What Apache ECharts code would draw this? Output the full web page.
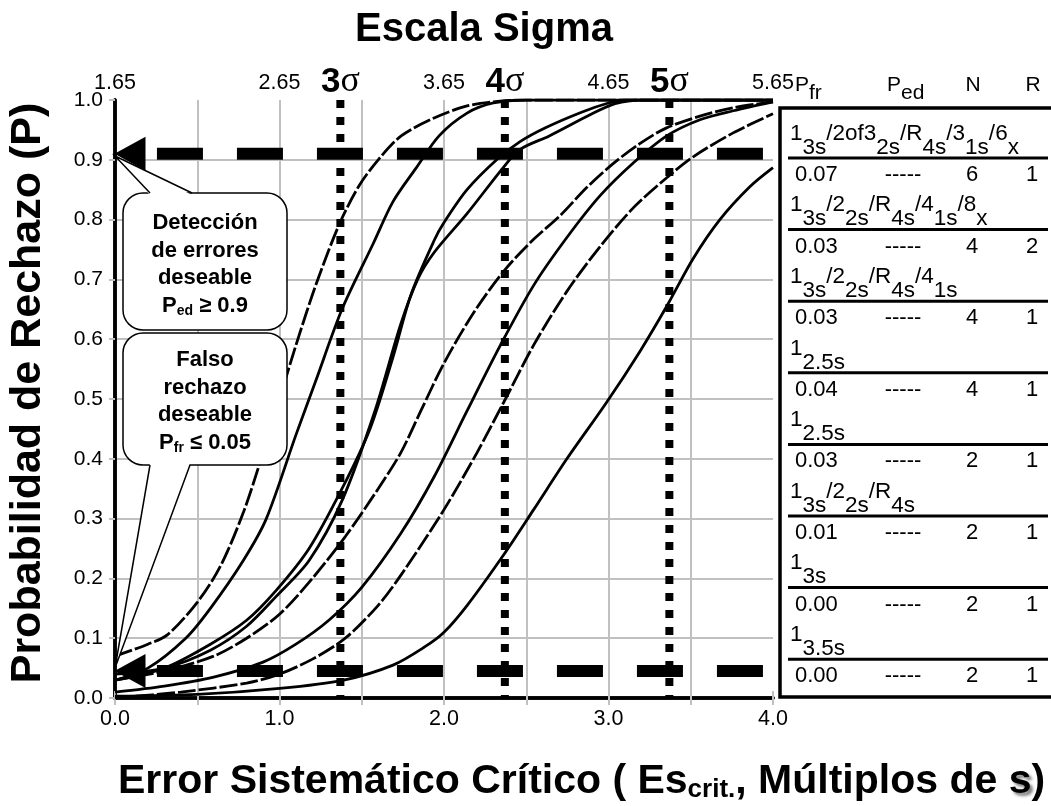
<!DOCTYPE html>
<html>
<head>
<meta charset="utf-8">
<script src="https://cdn.jsdelivr.net/npm/echarts@6.0.0/dist/echarts.min.js"></script>
<style>html,body{margin:0;padding:0;background:#fff}#main{width:1051px;height:806px}</style>
</head>
<body>
<div id="main"></div>
<script>
var FONT = 'Liberation Sans, Arial, sans-serif';

// curvas de potencia: [error sistematico, probabilidad de rechazo]
var curveA = [[0,0.07],[0.2,0.09],[0.32,0.106],[0.5,0.16],[0.64,0.22],[0.78,0.31],[0.9,0.41],[1.0,0.5],[1.1,0.59],[1.22,0.69],[1.36,0.79],[1.48,0.855],[1.6,0.9],[1.74,0.94],[1.94,0.97],[2.14,0.99],[2.34,0.998],[2.5,1.0],[4,1.0]];
var curveB = [[0,0.03],[0.2,0.05],[0.43,0.1],[0.58,0.15],[0.78,0.23],[0.92,0.3],[1.1,0.44],[1.22,0.53],[1.38,0.65],[1.57,0.76],[1.69,0.83],[1.83,0.886],[1.97,0.94],[2.14,0.978],[2.3,0.995],[2.5,1.0],[4,1.0]];
var curveC = [[0,0.03],[0.3,0.05],[0.58,0.09],[0.8,0.13],[0.98,0.18],[1.18,0.25],[1.38,0.35],[1.55,0.45],[1.69,0.57],[1.8,0.675],[1.94,0.765],[2.0,0.795],[2.14,0.85],[2.32,0.9],[2.46,0.93],[2.62,0.954],[2.84,0.98],[3.0,0.995],[3.1,1.0],[4,1.0]];
var curveD = [[0,0.04],[0.3,0.05],[0.58,0.08],[0.8,0.12],[0.98,0.17],[1.18,0.23],[1.38,0.33],[1.58,0.48],[1.737,0.625],[1.84,0.7],[1.94,0.745],[2.14,0.81],[2.36,0.887],[2.46,0.917],[2.64,0.94],[2.9,0.977],[3.04,0.994],[3.2,1.0],[4,1.0]];
var curveE = [[0,0.03],[0.3,0.045],[0.6,0.07],[0.8,0.1],[1.0,0.14],[1.2,0.2],[1.4,0.27],[1.6,0.35],[1.737,0.41],[1.859,0.48],[2.0,0.56],[2.182,0.645],[2.364,0.714],[2.545,0.767],[2.707,0.807],[2.869,0.854],[3.03,0.894],[3.19,0.927],[3.35,0.953],[3.556,0.973],[3.758,0.987],[4.0,0.997]];
var curveF = [[0,0.01],[0.3,0.02],[0.6,0.035],[0.9,0.06],[1.1,0.09],[1.3,0.13],[1.5,0.185],[1.737,0.275],[1.94,0.37],[2.14,0.48],[2.343,0.59],[2.545,0.69],[2.747,0.77],[2.949,0.84],[3.152,0.895],[3.354,0.94],[3.556,0.967],[3.758,0.982],[4.0,0.997]];
var curveG = [[0,0.0],[0.4,0.01],[0.8,0.025],[1.0,0.04],[1.2,0.065],[1.4,0.1],[1.6,0.155],[1.737,0.205],[2.0,0.315],[2.2,0.41],[2.364,0.495],[2.545,0.59],[2.747,0.68],[2.949,0.755],[3.152,0.82],[3.354,0.87],[3.515,0.905],[3.758,0.945],[4.0,0.977]];
var curveH = [[0,0.003],[0.5,0.006],[1.0,0.016],[1.39,0.03],[1.69,0.055],[1.88,0.085],[2.0,0.11],[2.141,0.155],[2.364,0.24],[2.545,0.315],[2.747,0.4],[2.99,0.495],[3.192,0.58],[3.354,0.655],[3.515,0.735],[3.677,0.8],[3.859,0.855],[4.0,0.887]];

// escala sigma
var sigmaX = [1.37, 2.37, 3.37];
var sigmaNames = ['3', '4', '5'];
var sigmaOffset = 1.65;
// lineas de referencia (P deseadas)
var pedLevel = 0.91;
var pfrLevel = 0.045;

// tabla de reglas
var rules = [
  '{n|1}{s|3s}{n|/2of3}{s|2s}{n|/R}{s|4s}{n|/3}{s|1s}{n|/6}{s|x}',
  '{n|1}{s|3s}{n|/2}{s|2s}{n|/R}{s|4s}{n|/4}{s|1s}{n|/8}{s|x}',
  '{n|1}{s|3s}{n|/2}{s|2s}{n|/R}{s|4s}{n|/4}{s|1s}',
  '{n|1}{s|2.5s}',
  '{n|1}{s|2.5s}',
  '{n|1}{s|3s}{n|/2}{s|2s}{n|/R}{s|4s}',
  '{n|1}{s|3s}',
  '{n|1}{s|3.5s}'
];
var pfr = ['0.07', '0.03', '0.03', '0.04', '0.03', '0.01', '0.00', '0.00'];
var ped = ['-----', '-----', '-----', '-----', '-----', '-----', '-----', '-----'];
var nVals = ['6', '4', '4', '4', '2', '2', '2', '2'];
var rVals = ['1', '2', '1', '1', '1', '1', '1', '1'];

var curves = [curveA, curveB, curveC, curveD, curveE, curveF, curveG, curveH];
var dashed = [true, false, false, false, true, false, true, false];

var chart = echarts.init(document.getElementById('main'));

var series = curves.map(function (c, i) {
  return {
    type: 'line', data: c, smooth: 0.3, showSymbol: false, z: 3,
    lineStyle: { color: '#000', width: 2.8, type: dashed[i] ? [18, 3] : 'solid' }
  };
});
sigmaX.forEach(function (s) {
  series.push({
    type: 'line', data: [[s, 1], [s, 0]], showSymbol: false, z: 4,
    lineStyle: { color: '#000', width: 8, type: [8, 9], cap: 'butt' }
  });
});
[pedLevel, pfrLevel].forEach(function (p) {
  series.push({
    type: 'line', data: [[0.255, p], [4, p]], showSymbol: false, z: 4,
    lineStyle: { color: '#000', width: 12, type: [46, 34], cap: 'butt' }
  });
});
series.push({
  type: 'scatter', data: [[0, pedLevel], [0, pfrLevel]], clip: false, z: 5,
  symbol: 'path://M0,10 L20,0 L20,20 Z', symbolSize: [31, 34], symbolOffset: [15, 0],
  itemStyle: { color: '#000', opacity: 1 }
});
series.push({
  type: 'scatter', data: sigmaX.map(function (s) { return [s, 1]; }), clip: false, z: 6,
  symbolSize: 0.01, itemStyle: { color: '#000', opacity: 1 },
  label: {
    show: true, position: 'top', distance: 0, color: '#000', opacity: 1,
    formatter: function (p) { return '{d|' + sigmaNames[p.dataIndex] + '}{g|σ}'; },
    rich: {
      d: { fontSize: 35, fontWeight: 'bold', fontFamily: FONT, color: '#000' },
      g: { fontSize: 36, fontFamily: 'Liberation Serif, serif', color: '#000' }
    }
  }
});

var gray = '#c0c0c0';
var graphic = [
  { type: 'text', x: 484, y: 30, style: { text: 'Escala Sigma', font: 'bold 40px ' + FONT, fill: '#000', align: 'center', verticalAlign: 'middle' } },
  { type: 'text', x: 28, y: 393, rotation: Math.PI / 2, style: { text: 'Probabilidad de Rechazo (P)', font: 'bold 43px ' + FONT, fill: '#000', align: 'center', verticalAlign: 'middle' } },
  { type: 'text', x: 118, y: 782, style: {
      text: '{t|Error Sistemático Crítico ( Es}{b|crit.}{t|, Múltiplos de }{h|s}{t|)}',
      align: 'left', verticalAlign: 'middle',
      rich: {
        t: { fontSize: 41, fontWeight: 'bold', fontFamily: FONT, fill: '#000' },
        b: { fontSize: 26, fontWeight: 'bold', fontFamily: FONT, fill: '#000', padding: [16, 0, 0, 0] },
        h: { fontSize: 41, fontWeight: 'bold', fontFamily: FONT, fill: '#000', textShadowColor: 'rgba(0,0,0,0.5)', textShadowBlur: 3, textShadowOffsetX: 3, textShadowOffsetY: 3 }
      } } },
  // globos
  { type: 'rect', z: 10, shape: { x: 123, y: 193, width: 164, height: 137, r: 20 }, style: { fill: '#fff', stroke: '#000', lineWidth: 1.5 } },
  { type: 'polygon', z: 10, shape: { points: [[150, 195], [115, 156], [192, 195]] }, style: { fill: '#fff' } },
  { type: 'polyline', z: 10, shape: { points: [[150, 193], [115, 156], [192, 193]] }, style: { stroke: '#000', lineWidth: 1.5, fill: null } },
  { type: 'rect', z: 10, shape: { x: 123, y: 333, width: 164, height: 132, r: 20 }, style: { fill: '#fff', stroke: '#000', lineWidth: 1.5 } },
  { type: 'polygon', z: 10, shape: { points: [[150, 463], [115, 668], [190, 463]] }, style: { fill: '#fff' } },
  { type: 'polyline', z: 10, shape: { points: [[150, 465], [115, 668], [190, 465]] }, style: { stroke: '#000', lineWidth: 1.5, fill: null } },
  // tabla
  { type: 'rect', z: 10, shape: { x: 780, y: 108, width: 300, height: 589 }, style: { fill: null, stroke: '#000', lineWidth: 3.5 } },
  { type: 'text', z: 10, x: 795, y: 104, style: { text: '{n|P}{s|fr}', align: 'left', verticalAlign: 'bottom',
      rich: { n: { fontSize: 21, fontFamily: FONT, fill: '#000' }, s: { fontSize: 21, fontFamily: FONT, fill: '#000', padding: [16, 0, 0, 0] } } } },
  { type: 'text', z: 10, x: 887, y: 104, style: { text: '{n|P}{s|ed}', align: 'left', verticalAlign: 'bottom',
      rich: { n: { fontSize: 21, fontFamily: FONT, fill: '#000' }, s: { fontSize: 21, fontFamily: FONT, fill: '#000', padding: [16, 0, 0, 0] } } } },
  { type: 'text', z: 10, x: 973, y: 85, style: { text: 'N', font: '21px ' + FONT, fill: '#000', align: 'center', verticalAlign: 'middle' } },
  { type: 'text', z: 10, x: 1033, y: 85, style: { text: 'R', font: '21px ' + FONT, fill: '#000', align: 'center', verticalAlign: 'middle' } }
];

function boxText(lines, y0) {
  lines.forEach(function (t, i) {
    graphic.push({ type: 'text', z: 11, x: 205, y: y0 + i * 27.5, style: {
      text: t, align: 'center', verticalAlign: 'middle',
      rich: {
        b: { fontSize: 22, fontWeight: 'bold', fontFamily: FONT, fill: '#000' },
        u: { fontSize: 14, fontWeight: 'bold', fontFamily: FONT, fill: '#000', padding: [12, 0, 0, 0] }
      } } });
  });
}
boxText(['{b|Detección}', '{b|de errores}', '{b|deseable}', '{b|P}{u|ed}{b| ≥ 0.9}'], 223);
boxText(['{b|Falso}', '{b|rechazo}', '{b|deseable}', '{b|P}{u|fr}{b| ≤ 0.05}'], 360);

rules.forEach(function (r, i) {
  var ly = 158 + i * 71.6;
  graphic.push({ type: 'text', z: 11, x: 790, y: ly + 1, style: { text: r, align: 'left', verticalAlign: 'bottom',
    rich: { n: { fontSize: 22.5, fontFamily: FONT, fill: '#000', padding: [0, 0, 14, 0] },
            s: { fontSize: 22.5, fontFamily: FONT, fill: '#000', padding: [14, 0, 0, 0] } } } });
  graphic.push({ type: 'line', z: 11, shape: { x1: 788, y1: ly, x2: 1048, y2: ly }, style: { stroke: '#000', lineWidth: 3 } });
  var vy = ly + 17;
  graphic.push({ type: 'text', z: 11, x: 795, y: vy, style: { text: pfr[i], font: '22px ' + FONT, fill: '#000', align: 'left', verticalAlign: 'middle' } });
  graphic.push({ type: 'text', z: 11, x: 903, y: vy, style: { text: ped[i], font: '22px ' + FONT, fill: '#000', align: 'center', verticalAlign: 'middle' } });
  graphic.push({ type: 'text', z: 11, x: 972, y: vy, style: { text: nVals[i], font: '22px ' + FONT, fill: '#000', align: 'center', verticalAlign: 'middle' } });
  graphic.push({ type: 'text', z: 11, x: 1032, y: vy, style: { text: rVals[i], font: '22px ' + FONT, fill: '#000', align: 'center', verticalAlign: 'middle' } });
});

var option = {
  animation: false,
  backgroundColor: '#fff',
  grid: { left: 115, top: 100, width: 658, height: 598 },
  xAxis: [{
    type: 'value', min: 0, max: 4, interval: 0.5, position: 'bottom',
    axisLine: { lineStyle: { color: '#000', width: 3.5 } },
    axisTick: { show: true, length: 7, lineStyle: { color: gray, width: 2 } },
    axisLabel: { fontSize: 21.5, fontFamily: FONT, color: '#000', margin: 10,
      formatter: function (v) { return v % 1 === 0 ? v.toFixed(1) : ''; } },
    splitLine: { show: true, showMinLine: false, showMaxLine: false, lineStyle: { color: gray, width: 2 } }
  }, {
    type: 'value', min: 0, max: 4, interval: 0.5, position: 'top',
    axisLine: { lineStyle: { color: '#000', width: 3.5 } },
    axisTick: { show: true, length: 7, lineStyle: { color: gray, width: 2 } },
    axisLabel: { fontSize: 21.5, fontFamily: FONT, color: '#000', margin: 6,
      formatter: function (v) { return v % 1 === 0 ? (sigmaOffset + v).toFixed(2) : ''; } },
    splitLine: { show: false }
  }],
  yAxis: [{
    type: 'value', min: 0, max: 1, interval: 0.1,
    axisLine: { show: true, lineStyle: { color: '#000', width: 3.5 } },
    axisTick: { show: true, length: 6, lineStyle: { color: gray, width: 2 } },
    axisLabel: { fontSize: 21, fontFamily: FONT, color: '#000', margin: 12,
      formatter: function (v) { return v.toFixed(1); } },
    splitLine: { show: true, showMinLine: false, showMaxLine: false, lineStyle: { color: gray, width: 2 } }
  }, {
    type: 'value', min: 0, max: 1, position: 'right',
    axisLine: { show: true, lineStyle: { color: '#000', width: 3.5 } },
    axisTick: { show: false }, axisLabel: { show: false }, splitLine: { show: false }
  }],
  series: series,
  graphic: graphic
};
chart.setOption(option);
</script>
</body>
</html>
